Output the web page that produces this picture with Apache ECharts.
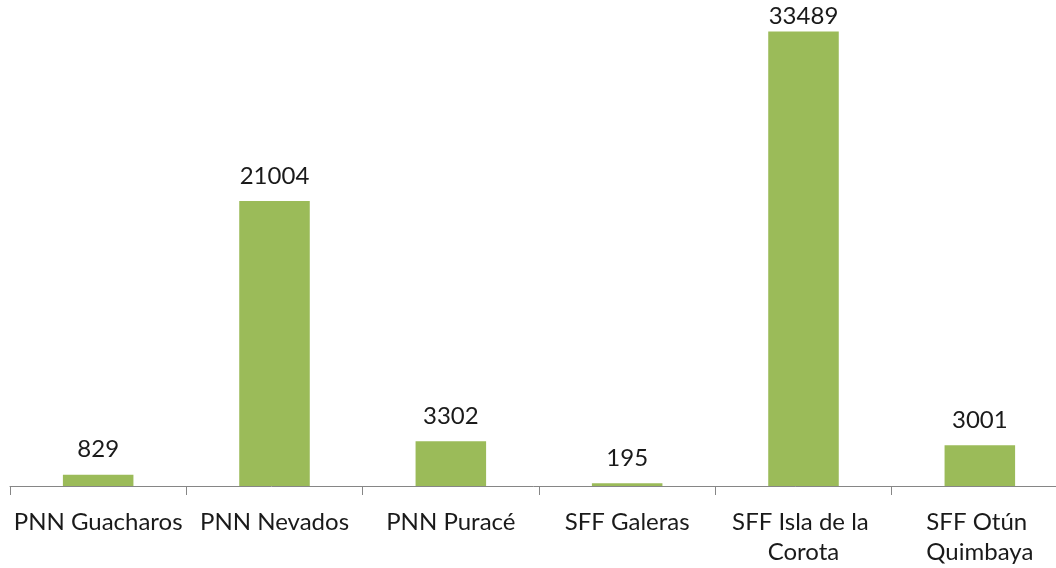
<!DOCTYPE html>
<html>
<head>
<meta charset="utf-8">
<script src="https://cdn.jsdelivr.net/npm/echarts@6/dist/echarts.min.js"></script>
<style>
html,body{margin:0;padding:0;background:#fff;}
#chart{width:1056px;height:568px;}
</style>
</head>
<body>
<div id="chart"></div>
<script>
const categories = ['PNN Guacharos', 'PNN Nevados', 'PNN Puracé', 'SFF Galeras', 'SFF Isla de la Corota', 'SFF Otún Quimbaya'];
const values = [829, 21004, 3302, 195, 33489, 3001];

const maxVal = Math.max.apply(null, values);
const seriesData = values.map(function (v) {
  if (v === maxVal) {
    return { value: v, label: { distance: 3 } };
  }
  return v;
});

const chart = echarts.init(document.getElementById('chart'));
chart.setOption({
  animation: false,
  grid: { left: 10, width: 1058, top: 11, height: 475, outerBoundsMode: 'none', containLabel: false },
  xAxis: {
    type: 'category',
    data: categories,
    axisLine: { lineStyle: { color: '#868686', width: 1 } },
    axisTick: { show: true, length: 9, lineStyle: { color: '#868686' } },
    axisLabel: {
      interval: 0,
      margin: 21,
      fontFamily: 'Lato',
      fontSize: 24,
      color: '#1a1a1a',
      width: 172,
      overflow: 'break',
      lineHeight: 30
    }
  },
  yAxis: {
    type: 'value',
    min: 0,
    max: 35000,
    show: false,
    splitLine: { show: false }
  },
  series: [{
    type: 'bar',
    data: seriesData,
    barWidth: '40%',
    itemStyle: { color: '#9BBB59' },
    label: {
      show: true,
      position: 'top',
      distance: 13,
      fontFamily: 'Lato',
      fontSize: 24,
      color: '#1a1a1a'
    }
  }]
});
</script>
</body>
</html>
